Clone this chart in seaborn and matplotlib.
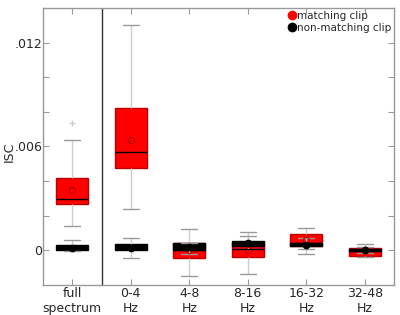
import numpy as np
import pandas as pd
import seaborn as sns
import matplotlib
matplotlib.use("Agg")
import matplotlib.pyplot as plt
from matplotlib.lines import Line2D

# frequency bands (x categories)
bands = ["full\nspectrum", "0-4\nHz", "4-8\nHz", "8-16\nHz", "16-32\nHz", "32-48\nHz"]

# matching clip: box summary
match_lo = [0.00143, 0.00238, -0.00147, -0.00137, -0.00022, -0.00039]
match_q1 = [0.00268, 0.00474, -0.00042, -0.00039, 0.00026, -0.00030]
match_med = [0.00299, 0.00567, 0.00005, 0.00007, 0.00040, -0.00002]
match_q3 = [0.00420, 0.00824, 0.00042, 0.00050, 0.00093, 0.00013]
match_hi = [0.00636, 0.01300, 0.00122, 0.00108, 0.00130, 0.00036]
match_mean = [0.00349, 0.00637, 0.00005, 0.00000, 0.00060, 0.00000]
match_fliers = [[0.00737], [], [], [], [], []]

# non-matching clip
non_lo = [-0.00003, -0.00042, -0.00020, 0.00010, 0.00007, -0.00015]
non_q1 = [0.00003, 0.00003, 0.00003, 0.00026, 0.00026, -0.00004]
non_med = [0.00015, 0.00015, 0.00020, 0.00042, 0.00030, 0.00002]
non_q3 = [0.00030, 0.00036, 0.00042, 0.00055, 0.00045, 0.00006]
non_hi = [0.00059, 0.00072, 0.00042, 0.00084, 0.00070, 0.00020]
non_mean = [0.00012, 0.00015, 0.00022, 0.00040, 0.00030, 0.00002]
non_fliers = [[], [], [], [], [], []]


def sample_frame(lo, q1, med, q3, hi, fliers):
    # small sample whose quartiles / whiskers equal the read values
    rows = []
    for b, a, c, m, d, e, f in zip(bands, lo, q1, med, q3, hi, fliers):
        if f:
            vals = [a, c, c, m, m, m, d, e] + f
        else:
            vals = [a, c, c, m, d, d, e]
        rows += [(b, v) for v in vals]
    return pd.DataFrame(rows, columns=["band", "isc"])


df_match = sample_frame(match_lo, match_q1, match_med, match_q3, match_hi, match_fliers)
df_non = sample_frame(non_lo, non_q1, non_med, non_q3, non_hi, non_fliers)

sns.set_style("ticks")
plt.rcParams["font.family"] = ["DejaVu Sans"]

fig = plt.figure(figsize=(4, 3.15), dpi=100)
ax = fig.add_axes([0.1075, 0.095, 0.8775, 0.88])

common = dict(order=bands, width=0.55, saturation=1, linewidth=1,
              whiskerprops=dict(color="#cccccc", linewidth=1),
              capprops=dict(color="#999999", linewidth=1),
              flierprops=dict(marker="+", markeredgecolor="#cccccc", markersize=5),
              ax=ax)

sns.boxplot(data=df_match, x="band", y="isc", color="red",
            boxprops=dict(facecolor="red", edgecolor="#c00000"),
            medianprops=dict(color="black", linewidth=1), **common)
sns.boxplot(data=df_non, x="band", y="isc", color="black",
            boxprops=dict(facecolor="black", edgecolor="black"),
            medianprops=dict(color="black", linewidth=1), **common)

sns.pointplot(x=bands, y=match_mean, order=bands, linestyle="none", errorbar=None,
              marker="o", markersize=4.5, color="#b00000", markerfacecolor="none",
              markeredgewidth=0.8, ax=ax)
sns.pointplot(x=bands, y=non_mean, order=bands, linestyle="none", errorbar=None,
              marker="o", markersize=3.5, color="black", ax=ax)

ax.axvline(0.5, color="#333333", linewidth=1)

ax.set_xlim(-0.5, 5.5)
ax.set_ylim(-0.002, 0.014)
yt = [0, 0.002, 0.004, 0.006, 0.008, 0.010, 0.012]
ax.set_yticks(yt)
ax.set_yticklabels(["0", "", "", ".006", "", "", ".012"])
ax.set_xlabel("")
ax.set_ylabel("ISC", fontsize=9)
ax.yaxis.set_label_coords(-0.078, 0.48)

ax.tick_params(direction="in", top=True, right=True, length=4, width=0.8,
               color="#999999", labelsize=9)
ax.tick_params(axis="y", pad=0.5)
ax.tick_params(axis="x", pad=1.5)
for s in ax.spines.values():
    s.set_visible(True)
    s.set_color("#999999")
    s.set_linewidth(1)

handles = [Line2D([], [], marker="o", linestyle="none", color="red", markersize=6),
           Line2D([], [], marker="o", linestyle="none", color="black", markersize=6)]
ax.legend(handles, ["matching clip", "non-matching clip"], loc="upper right",
          frameon=False, fontsize=7.5, handletextpad=0, handlelength=0.8,
          borderpad=0.2, borderaxespad=0.1, labelspacing=0.2)

fig.savefig("out.png", dpi=100)
